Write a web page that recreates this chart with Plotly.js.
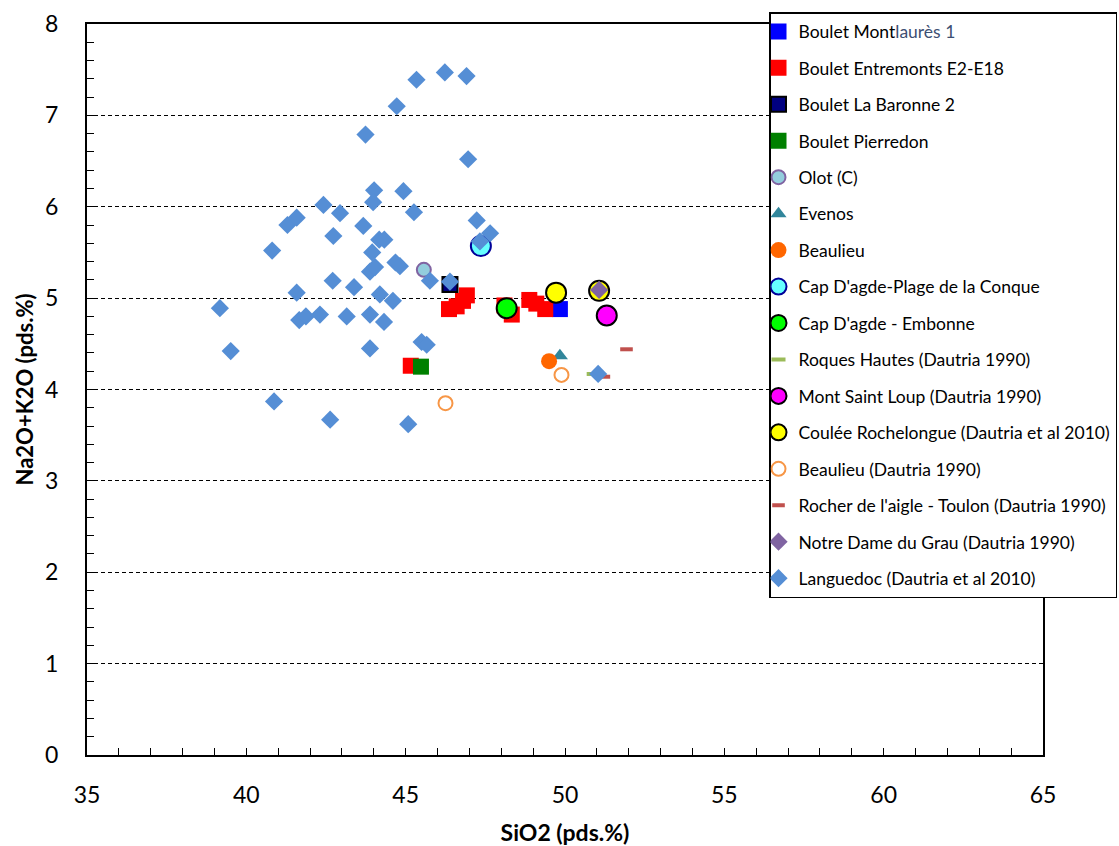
<!DOCTYPE html>
<html>
<head>
<meta charset="utf-8">
<script src="https://cdn.plot.ly/plotly-3.0.1.min.js"></script>
<style>html,body{margin:0;padding:0;background:#fff;}#chart{width:1119px;height:846px;}</style>
</head>
<body>
<div id="chart"></div>
<script>
// ---- Data (SiO2, Na2O+K2O in pds.%) ----
const montlauresX = [49.84];
const montlauresY = [4.88];
const entremontsX = [46.36, 46.60, 46.80, 46.92, 48.10, 48.33, 48.88, 49.10, 49.38];
const entremontsY = [4.88, 4.91, 4.97, 5.03, 4.92, 4.82, 4.98, 4.94, 4.88];
const baronneX = [46.39];
const baronneY = [5.15];
const pierredonX = [45.48];
const pierredonY = [4.25];
const entremonts2X = [45.16];
const entremonts2Y = [4.26];
const olotX = [45.57];
const olotY = [5.31];
const evenosX = [49.84];
const evenosY = [4.37];
const beaulieuX = [49.50];
const beaulieuY = [4.31];
const capPlageX = [47.36];
const capPlageY = [5.57];
const capEmbonneX = [48.17];
const capEmbonneY = [4.89];
const roquesX = [50.90];
const roquesY = [4.17];
const montLoupX = [51.31];
const montLoupY = [4.81];
const rochelongueX = [49.72, 51.07];
const rochelongueY = [5.06, 5.08];
const beaulieu90X = [46.25, 49.89];
const beaulieu90Y = [3.85, 4.16];
const rocherX = [51.93, 51.22];
const rocherY = [4.44, 4.14];
const notreDameX = [51.07];
const notreDameY = [5.09];
const languedocX = [39.17, 39.51, 40.81, 40.87, 41.29, 41.58, 41.58, 41.66, 41.87, 42.31,
  42.42, 42.73, 42.71, 42.63, 42.94, 43.15, 43.38, 43.74, 43.67, 43.88,
  44.04, 43.95, 43.88, 43.88, 44.01, 43.98, 44.17, 44.33, 44.19, 44.32,
  44.60, 44.68, 44.82, 44.72, 44.93, 45.26, 45.34, 45.08, 45.50, 45.66,
  45.76, 46.39, 46.91, 46.23, 46.96, 47.23, 47.33, 47.65, 51.04];
const languedocY = [4.89, 4.42, 5.52, 3.87, 5.80, 5.88, 5.06, 4.76, 4.80, 4.82,
  6.02, 5.68, 5.19, 3.67, 5.93, 4.80, 5.12, 6.79, 5.79, 5.29,
  5.34, 5.50, 4.82, 4.45, 6.18, 6.05, 5.64, 5.64, 5.04, 4.74,
  4.97, 5.39, 5.35, 7.10, 6.17, 5.94, 7.39, 3.62, 4.52, 4.49,
  5.19, 5.18, 7.43, 7.47, 6.52, 5.85, 5.62, 5.71, 4.17];

const xTicks = [35, 40, 45, 50, 55, 60, 65];
const yTicks = [0, 1, 2, 3, 4, 5, 6, 7, 8];

function tr(name, x, y, marker, group, showleg) {
  return {type: 'scatter', mode: 'markers', name: name, x: x, y: y, marker: marker,
          legendgroup: group, showlegend: showleg !== false, hoverinfo: 'x+y'};
}

const data = [
  tr("Boulet Mont<span style='color:#3d4f73'>laurès 1</span>", montlauresX, montlauresY,
     {symbol: 'square', size: 16, color: '#0000FF'}, 'g1'),
  tr('Boulet Entremonts E2-E18', entremontsX, entremontsY,
     {symbol: 'square', size: 16, color: '#FF0000'}, 'g2'),
  tr('Boulet Entremonts E2-E18', entremonts2X, entremonts2Y,
     {symbol: 'square', size: 16, color: '#FF0000'}, 'g2', false),
  tr('Boulet La Baronne 2', baronneX, baronneY,
     {symbol: 'square', size: 15, color: '#000080', line: {color: '#000000', width: 2}}, 'g3'),
  tr('Boulet Pierredon', pierredonX, pierredonY,
     {symbol: 'square', size: 16, color: '#008000'}, 'g4'),
  tr('Olot (C)', olotX, olotY,
     {symbol: 'circle', size: 14, color: '#93CDDD', line: {color: '#8064A2', width: 2}}, 'g5'),
  tr('Evenos', evenosX, evenosY,
     {symbol: 'triangle-up', size: 14, color: '#31869B'}, 'g6'),
  tr('Beaulieu', beaulieuX, beaulieuY,
     {symbol: 'circle', size: 16, color: '#FF6600'}, 'g7'),
  tr("Cap D'agde-Plage de la Conque", capPlageX, capPlageY,
     {symbol: 'circle', size: 20, color: '#66FFFF', line: {color: '#000099', width: 2}}, 'g8'),
  tr("Cap D'agde - Embonne", capEmbonneX, capEmbonneY,
     {symbol: 'circle', size: 20, color: '#00FF00', line: {color: '#000000', width: 2}}, 'g9'),
  tr('Roques Hautes (Dautria 1990)', roquesX, roquesY,
     {symbol: 'line-ew', size: 10, color: '#9BBB59', line: {color: '#9BBB59', width: 4}}, 'g10'),
  tr('Mont Saint Loup (Dautria 1990)', montLoupX, montLoupY,
     {symbol: 'circle', size: 20, color: '#FF00FF', line: {color: '#000000', width: 2}}, 'g11'),
  tr('Coulée Rochelongue (Dautria et al 2010)', rochelongueX, rochelongueY,
     {symbol: 'circle', size: 20, color: '#FFFF00', line: {color: '#000000', width: 2}}, 'g12'),
  tr('Beaulieu (Dautria 1990)', beaulieu90X, beaulieu90Y,
     {symbol: 'circle-open', size: 14, color: '#F79646', line: {color: '#FF6600', width: 2}}, 'g13'),
  tr("Rocher de l'aigle - Toulon (Dautria 1990)", rocherX, rocherY,
     {symbol: 'line-ew', size: 9, color: '#C0504D', line: {color: '#C0504D', width: 4}}, 'g14'),
  tr('Notre Dame du Grau (Dautria 1990)', notreDameX, notreDameY,
     {symbol: 'diamond', size: 14, color: '#8064A2'}, 'g15'),
  tr('Languedoc (Dautria et al 2010)', languedocX, languedocY,
     {symbol: 'diamond', size: 14, color: '#558ED5'}, 'g16')
];

const FONT = 'Lato, "Open Sans", sans-serif';
const axisFont = {family: FONT, size: 23, color: '#000'};

const layout = {
  width: 1119, height: 846,
  margin: {l: 87, r: 76, t: 24, b: 91, autoexpand: false},
  paper_bgcolor: '#ffffff', plot_bgcolor: '#ffffff',
  font: {family: FONT, color: '#000'},
  showlegend: true,
  legend: {
    x: 0.7134, y: 1.0164, xanchor: 'left', yanchor: 'top',
    maxheight: 720,
    bgcolor: '#ffffff', bordercolor: '#000000', borderwidth: 1.5,
    font: {family: FONT, size: 17.5, color: '#000'},
    traceorder: 'grouped', tracegroupgap: 10.7, itemwidth: 30, indentation: -12
  },
  xaxis: {
    range: [35, 65], tickvals: xTicks, ticktext: xTicks.map(String),
    ticks: 'inside', ticklen: 7, tickwidth: 1, tickcolor: '#000',
    minor: {dtick: 1, ticks: 'inside', ticklen: 7, tickwidth: 1, tickcolor: '#000', showgrid: false},
    showline: true, linecolor: '#000', linewidth: 2, mirror: true,
    showgrid: false, zeroline: false, tickfont: axisFont, ticklabelstandoff: 18,
    title: {text: '<b>SiO2 (pds.%)</b>', font: {family: FONT, size: 23, color: '#000'}, standoff: 18}
  },
  yaxis: {
    range: [0, 8], tickvals: yTicks, ticktext: yTicks.map(String),
    ticks: 'inside', ticklen: 7, tickwidth: 1, tickcolor: '#000',
    minor: {dtick: 0.2, ticks: 'inside', ticklen: 7, tickwidth: 1, tickcolor: '#000', showgrid: false},
    showline: true, linecolor: '#000', linewidth: 2, mirror: true,
    showgrid: true, gridcolor: '#000', gridwidth: 1.2, griddash: '4px,3px',
    zeroline: false, tickfont: axisFont, ticklabelstandoff: 22,
    title: {text: '<b>Na2O+K2O (pds.%)</b>', font: {family: FONT, size: 22, color: '#000'}, standoff: 5}
  }
};

Plotly.newPlot('chart', data, layout, {displayModeBar: false, staticPlot: true});
</script>
</body>
</html>
